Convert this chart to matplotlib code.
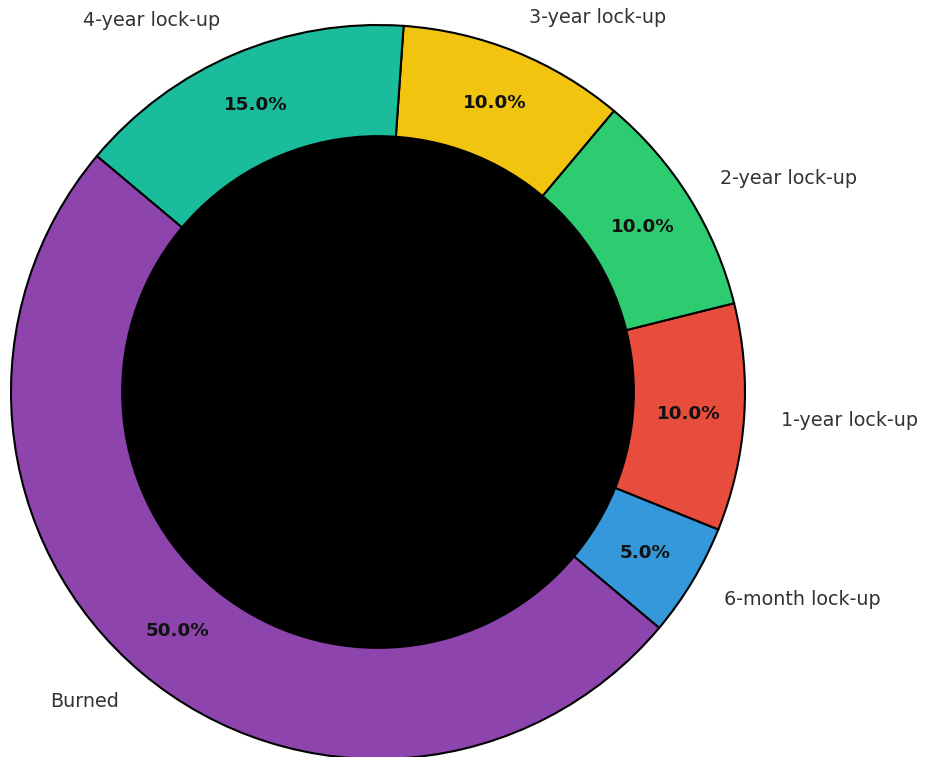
import matplotlib
matplotlib.use('Agg')
import matplotlib.pyplot as plt

# Token allocation
labels = ['6-month lock-up', '1-year lock-up', '2-year lock-up',
          '3-year lock-up', '4-year lock-up', 'Burned']
shares = [5, 10, 10, 10, 15, 50]
colors = ['#3498db', '#e74c3c', '#2ecc71', '#f1c40f', '#1abc9c', '#8e44ad']

W, H = 926, 757
fig = plt.figure(figsize=(W / 100, H / 100), dpi=100)

# place the pie: centre (378, 392) px from top-left, radius 367 px
r_px = 367
cx, cy = 378, H - 392
side = 2.5 * r_px
ax = fig.add_axes([(cx - side / 2) / W, (cy - side / 2) / H, side / W, side / H])

wedges, texts, autotexts = ax.pie(
    shares, labels=labels, colors=colors, autopct='%1.1f%%',
    startangle=-40, pctdistance=0.85, labeldistance=1.1,
    wedgeprops={'edgecolor': 'black', 'linewidth': 1.5},
    textprops={'fontsize': 13.8, 'color': '#333333'})

for t in autotexts:
    t.set_fontsize(13.2)
    t.set_fontweight('bold')
    t.set_color('#111111')

# black centre hole
centre = plt.Circle((0, 0), 0.70, fc='black')
ax.add_artist(centre)

ax.set_xlim(-1.25, 1.25)
ax.set_ylim(-1.25, 1.25)
ax.set_aspect('equal')

fig.savefig('out.png', dpi=100)
